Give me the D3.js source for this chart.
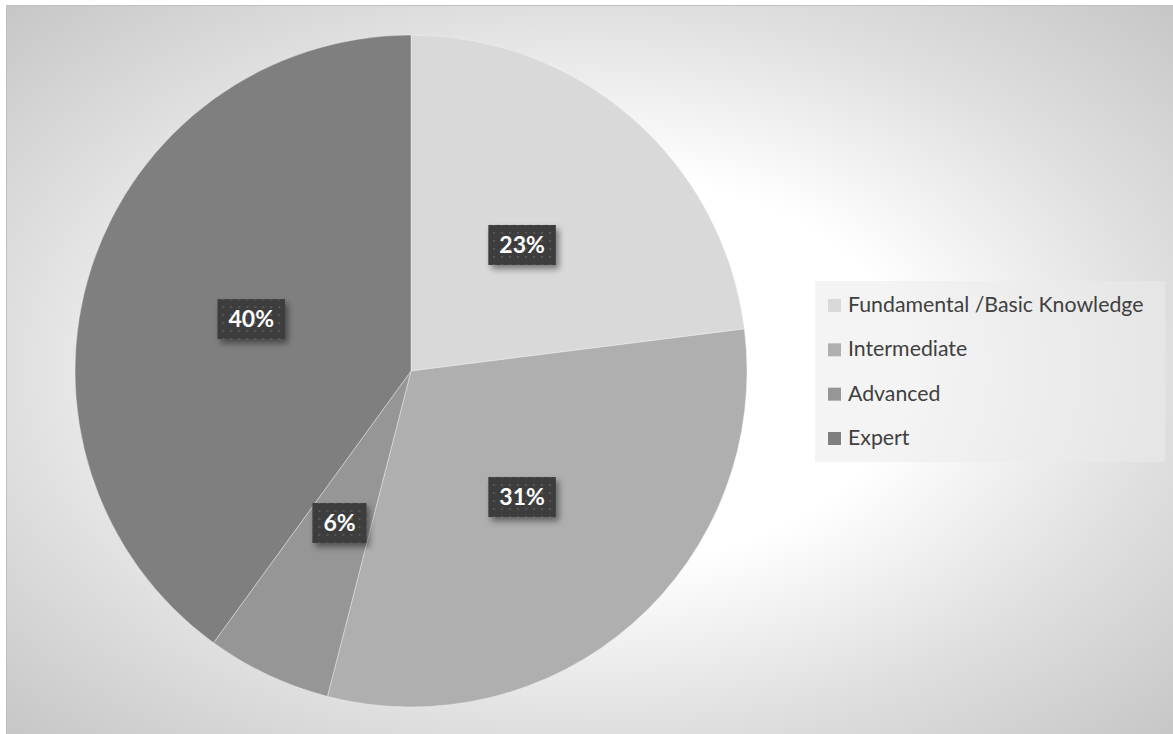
<!DOCTYPE html>
<html>
<head>
<meta charset="utf-8">
<script src="https://cdn.jsdelivr.net/npm/d3@7"></script>
<style>
  html, body { margin: 0; padding: 0; background: #ffffff; }
  svg { display: block; }
</style>
</head>
<body>
<svg id="chart" width="1173" height="734"></svg>
<script>
// Skill level distribution
const categories = ["Fundamental /Basic Knowledge", "Intermediate", "Advanced", "Expert"];
const values = [23, 31, 6, 40];
const sliceColors = ["#d9d9d9", "#afafaf", "#969696", "#7f7f7f"];

const W = 1173, H = 734;
const svg = d3.select("#chart");
const defs = svg.append("defs");

// Backdrop: radial fade from white to grey
const bg = defs.append("radialGradient").attr("id", "bgGrad")
  .attr("cx", 0.5).attr("cy", 0.5).attr("r", 0.71);
bg.append("stop").attr("offset", 0).attr("stop-color", "#ffffff");
bg.append("stop").attr("offset", 0.38).attr("stop-color", "#ffffff");
bg.append("stop").attr("offset", 0.7).attr("stop-color", "#dfdfdf");
bg.append("stop").attr("offset", 1).attr("stop-color", "#c6c6c6");

// Dotted texture for the value labels
const pat = defs.append("pattern").attr("id", "dots")
  .attr("patternUnits", "userSpaceOnUse").attr("width", 8).attr("height", 8);
pat.append("rect").attr("width", 8).attr("height", 8).attr("fill", "#3e3e3e");
pat.append("rect").attr("x", 3).attr("y", 3).attr("width", 2).attr("height", 2).attr("fill", "#565656");

const shadow = defs.append("filter").attr("id", "boxShadow")
  .attr("x", "-30%").attr("y", "-30%").attr("width", "170%").attr("height", "180%");
shadow.append("feDropShadow").attr("dx", 3).attr("dy", 4).attr("stdDeviation", 3)
  .attr("flood-color", "#000").attr("flood-opacity", 0.45);

const frame = { x: 6, y: 5, w: W - 6, h: H - 5 };
svg.append("rect").attr("x", frame.x).attr("y", frame.y)
  .attr("width", frame.w).attr("height", frame.h).attr("fill", "url(#bgGrad)");
svg.append("path")
  .attr("d", `M${frame.x + 0.5},${H} V${frame.y + 0.5} H${W}`)
  .attr("fill", "none").attr("stroke", "#bfbfbf").attr("stroke-width", 1);

// Pie
const cx = 411, cy = 371, R = 336;
const pie = d3.pie().sort(null).value(d => d.value);
const data = pie(categories.map((c, i) => ({ name: c, value: values[i], color: sliceColors[i] })));
const arc = d3.arc().innerRadius(0).outerRadius(R);
const labelArc = d3.arc().innerRadius(R * 0.5).outerRadius(R * 0.5);

const g = svg.append("g").attr("transform", `translate(${cx},${cy})`);
g.selectAll("path.slice").data(data).join("path")
  .attr("class", "slice")
  .attr("d", arc)
  .attr("fill", d => d.data.color)
  .attr("stroke", "#f4f4f4").attr("stroke-width", 1).attr("stroke-opacity", 0.4);

// Percentage labels in dark boxes
const total = d3.sum(values);
const labels = g.selectAll("g.lbl").data(data).join("g")
  .attr("class", "lbl")
  .attr("transform", d => { const [x, y] = labelArc.centroid(d); return `translate(${x},${y})`; });
labels.each(function (d) {
  const sel = d3.select(this);
  const box = sel.append("rect").attr("fill", "url(#dots)").attr("filter", "url(#boxShadow)");
  const t = sel.append("text")
    .attr("text-anchor", "middle").attr("dy", "0.36em")
    .attr("font-family", "Lato, 'Open Sans', sans-serif")
    .attr("font-weight", 700).attr("font-size", 23)
    .attr("fill", "#ffffff")
    .text(Math.round(d.data.value / total * 100) + "%");
  const tw = t.node().getComputedTextLength();
  const bw = tw + 22, bh = 40;
  box.attr("x", -bw / 2).attr("y", -bh / 2).attr("width", bw).attr("height", bh);
});

// Legend
const lg = svg.append("g").attr("transform", "translate(815,281)");
lg.append("rect").attr("width", 350).attr("height", 181)
  .attr("fill", "#ebebeb").attr("fill-opacity", 0.55);
const rowY = d3.scalePoint().domain(categories).range([31, 164]);
const items = lg.selectAll("g.item").data(data).join("g")
  .attr("class", "item")
  .attr("transform", d => `translate(0,${rowY(d.data.name)})`);
items.append("rect").attr("x", 13).attr("y", -13).attr("width", 13).attr("height", 13)
  .attr("fill", d => d.data.color);
items.append("text").attr("x", 33).attr("y", 0)
  .attr("font-family", "Lato, 'Open Sans', sans-serif")
  .attr("font-size", 21.3).attr("fill", "#404040")
  .text(d => d.data.name);
</script>
</body>
</html>
